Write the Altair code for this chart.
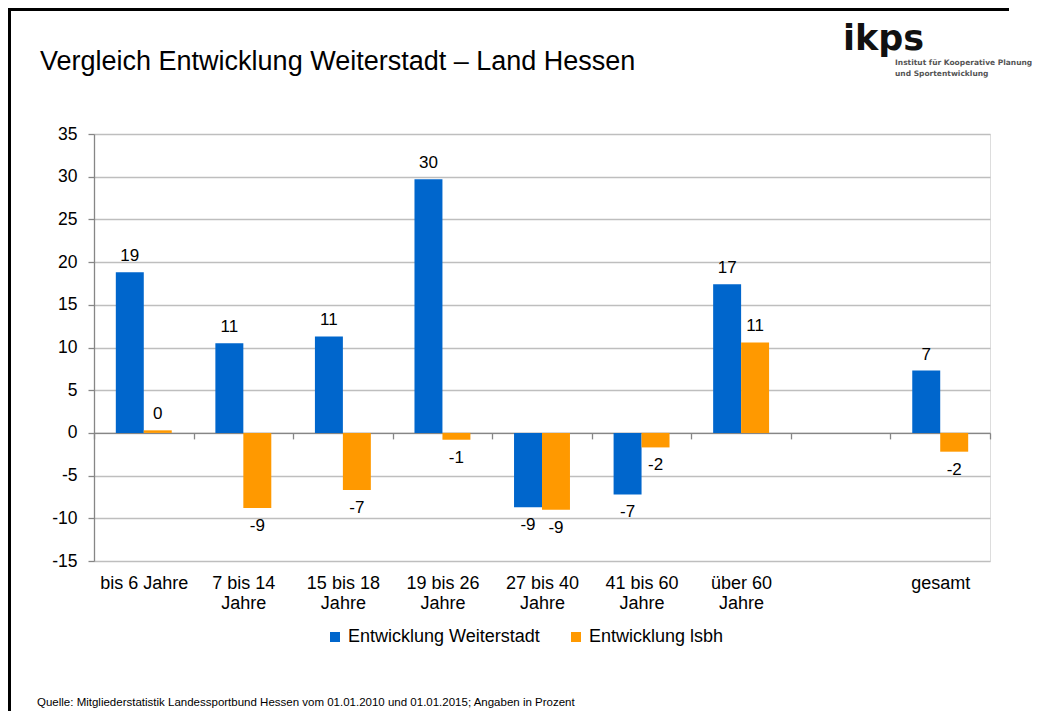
import math
import altair as alt
import pandas as pd

F = "Liberation Sans"

categories = ["bis 6 Jahre", "7 bis 14\nJahre", "15 bis 18\nJahre", "19 bis 26\nJahre",
              "27 bis 40\nJahre", "41 bis 60\nJahre", "über 60\nJahre", " ", "gesamt"]
series = ["Entwicklung Weiterstadt", "Entwicklung lsbh"]
weiterstadt = [18.8, 10.5, 11.3, 29.7, -8.7, -7.2, 17.4, None, 7.3]
lsbh = [0.3, -8.8, -6.7, -0.8, -9.0, -1.7, 10.6, None, -2.2]
colors = ["#0066CC", "#FF9900"]
y_ticks = [-15, -10, -5, 0, 5, 10, 15, 20, 25, 30, 35]

title_text = "Vergleich Entwicklung Weiterstadt \u2013 Land Hessen"
source_text = ("Quelle: Mitgliederstatistik Landessportbund Hessen vom 01.01.2010 und "
               "01.01.2015; Angaben in Prozent")
logo_text = "ikps"
logo_sub1 = "Institut für Kooperative Planung"
logo_sub2 = "und Sportentwicklung"

rows = []
for i, c in enumerate(categories):
    for s, vals in zip(series, [weiterstadt, lsbh]):
        v = vals[i]
        if v is None:
            continue
        rows.append({"cat": c, "series": s, "value": v,
                     "label": str(int(math.floor(v + 0.5)))})
df = pd.DataFrame(rows)

W, H = 896, 427
zero_from_bottom = H * 15 / 50

base = alt.Chart(df).encode(
    x=alt.X("cat:N", title=None,
            scale=alt.Scale(domain=categories, paddingInner=0, paddingOuter=0),
            axis=alt.Axis(offset=-zero_from_bottom, domainColor="#868686", domainWidth=1.3,
                          tickColor="#868686", tickSize=6, tickWidth=1.3,
                          tickBand="extent", labelAngle=0,
                          labelExpr="split(datum.label, '\\n')",
                          labelFontSize=18, labelFont=F, labelColor="black",
                          labelLineHeight=20, labelBaseline="top",
                          labelPadding=136, grid=False)),
    xOffset=alt.XOffset("series:N",
                        scale=alt.Scale(domain=series, paddingInner=0, paddingOuter=0.78)),
    y=alt.Y("value:Q", title=None,
            scale=alt.Scale(domain=[-15, 35], nice=False, zero=False),
            axis=alt.Axis(values=y_ticks, labelExpr="'' + datum.value",
                          domainColor="#868686", domainWidth=1.3,
                          tickColor="#868686", tickSize=6, tickWidth=1.3,
                          gridColor="#BEBEBE", gridWidth=1.3,
                          labelFontSize=17.5, labelFont=F, labelColor="black",
                          labelPadding=11)),
)

bars = base.mark_bar().encode(
    color=alt.Color("series:N", title=None,
                    scale=alt.Scale(domain=series, range=colors),
                    legend=alt.Legend(orient="none", legendX=232, legendY=494,
                                      direction="horizontal", symbolType="square",
                                      symbolSize=100, symbolStrokeWidth=0,
                                      labelFontSize=18, labelFont=F, labelColor="black",
                                      labelOffset=4, columnPadding=27, labelLimit=400))
)

pos = base.transform_filter("datum.value >= 0").mark_text(
    dy=-16, fontSize=17, font=F, color="black", baseline="middle").encode(text="label:N")
neg = base.transform_filter("datum.value < 0").mark_text(
    dy=18, fontSize=17, font=F, color="black", baseline="middle").encode(text="label:N")

one = pd.DataFrame({"a": [0]})
deco = alt.Chart(one)

title = deco.mark_text(align="left", baseline="alphabetic", fontSize=27, font=F,
                       color="black").encode(
    x=alt.value(40 - 94), y=alt.value(70 - 134), text=alt.value(title_text))
source = deco.mark_text(align="left", baseline="middle", fontSize=11.5, font=F,
                        color="black").encode(
    x=alt.value(37 - 94), y=alt.value(703 - 134), text=alt.value(source_text))
logo = deco.mark_text(align="left", baseline="alphabetic", fontSize=35,
                      font="DejaVu Sans", fontWeight="bold", color="#111111").encode(
    x=alt.value(843 - 94), y=alt.value(50 - 134), text=alt.value(logo_text))
logo1 = deco.mark_text(align="left", baseline="middle", fontSize=7.5,
                       font="DejaVu Sans", fontWeight="bold", color="#555555").encode(
    x=alt.value(895 - 94), y=alt.value(63 - 134), text=alt.value(logo_sub1))
logo2 = deco.mark_text(align="left", baseline="middle", fontSize=7.5,
                       font="DejaVu Sans", fontWeight="bold", color="#555555").encode(
    x=alt.value(895 - 94), y=alt.value(74 - 134), text=alt.value(logo_sub2))

frame_top = deco.mark_rect(color="black").encode(
    x=alt.value(-86), x2=alt.value(915), y=alt.value(-126), y2=alt.value(-123))
frame_left = deco.mark_rect(color="black").encode(
    x=alt.value(-86), x2=alt.value(-83), y=alt.value(-126), y2=alt.value(H + 150))

chart = alt.layer(bars, pos, neg, title, source, logo, logo1, logo2,
                  frame_top, frame_left).properties(
    width=W, height=H,
    padding={"left": 86, "top": 126, "right": 42, "bottom": 150},
    autosize=alt.AutoSizeParams(type="none"),
).configure_view(stroke=None).configure(background="white")

chart.save("out.html", embed_options={"renderer": "svg", "actions": False})
